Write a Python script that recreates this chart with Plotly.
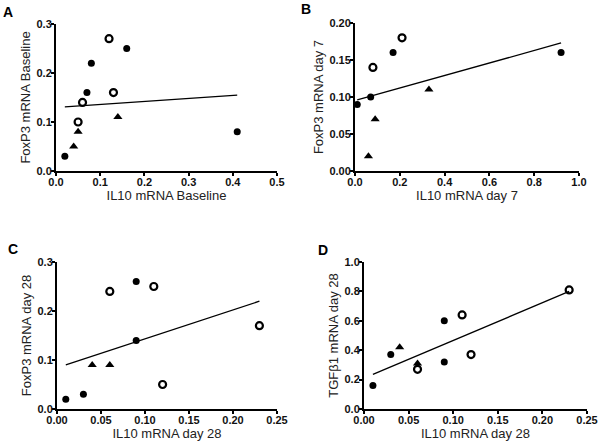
import plotly.graph_objects as go

# Panel A: baseline
a_fill_x = [0.02, 0.07, 0.08, 0.16, 0.41]
a_fill_y = [0.03, 0.16, 0.22, 0.25, 0.08]
a_open_x = [0.05, 0.06, 0.12, 0.13]
a_open_y = [0.10, 0.14, 0.27, 0.16]
a_tri_x = [0.04, 0.05, 0.14]
a_tri_y = [0.05, 0.08, 0.11]
a_fit_x = [0.02, 0.41]
a_fit_y = [0.131, 0.155]

# Panel B: day 7
b_fill_x = [0.01, 0.07, 0.17, 0.92]
b_fill_y = [0.09, 0.10, 0.16, 0.16]
b_open_x = [0.08, 0.21]
b_open_y = [0.14, 0.18]
b_tri_x = [0.06, 0.09, 0.33]
b_tri_y = [0.02, 0.07, 0.11]
b_fit_x = [0.01, 0.92]
b_fit_y = [0.096, 0.173]

# Panel C: day 28 FoxP3
c_fill_x = [0.01, 0.03, 0.09, 0.09]
c_fill_y = [0.02, 0.03, 0.26, 0.14]
c_open_x = [0.06, 0.11, 0.12, 0.23]
c_open_y = [0.24, 0.25, 0.05, 0.17]
c_tri_x = [0.04, 0.06]
c_tri_y = [0.09, 0.09]
c_fit_x = [0.01, 0.23]
c_fit_y = [0.09, 0.22]

# Panel D: day 28 TGFb1
d_fill_x = [0.01, 0.03, 0.09, 0.09]
d_fill_y = [0.16, 0.37, 0.60, 0.32]
d_open_x = [0.06, 0.11, 0.12, 0.23]
d_open_y = [0.27, 0.64, 0.37, 0.81]
d_tri_x = [0.04, 0.06]
d_tri_y = [0.42, 0.31]
d_fit_x = [0.01, 0.23]
d_fit_y = [0.235, 0.80]

panels = [
    dict(fill=(a_fill_x, a_fill_y), open=(a_open_x, a_open_y), tri=(a_tri_x, a_tri_y), fit=(a_fit_x, a_fit_y),
         xr=[0, 0.5], xd=0.1, xf=".1f", yr=[0, 0.3], yd=0.1, yf=".1f",
         xt="IL10 mRNA Baseline", yt="FoxP3 mRNA Baseline",
         dom_x=[56 / 603, 277 / 603], dom_y=[1 - 171 / 445, 1 - 24 / 445], letter="A", lx=8, ly=12),
    dict(fill=(b_fill_x, b_fill_y), open=(b_open_x, b_open_y), tri=(b_tri_x, b_tri_y), fit=(b_fit_x, b_fit_y),
         xr=[0, 1.0], xd=0.2, xf=".1f", yr=[0, 0.2], yd=0.05, yf=".2f",
         xt="IL10 mRNA day 7", yt="FoxP3 mRNA day 7",
         dom_x=[355 / 603, 579 / 603], dom_y=[1 - 171 / 445, 1 - 23 / 445], letter="B", lx=306, ly=9),
    dict(fill=(c_fill_x, c_fill_y), open=(c_open_x, c_open_y), tri=(c_tri_x, c_tri_y), fit=(c_fit_x, c_fit_y),
         xr=[0, 0.25], xd=0.05, xf=".2f", yr=[0, 0.3], yd=0.1, yf=".1f",
         xt="IL10 mRNA day 28", yt="FoxP3 mRNA day 28",
         dom_x=[57 / 603, 277 / 603], dom_y=[1 - 409 / 445, 1 - 262 / 445], letter="C", lx=13, ly=249),
    dict(fill=(d_fill_x, d_fill_y), open=(d_open_x, d_open_y), tri=(d_tri_x, d_tri_y), fit=(d_fit_x, d_fit_y),
         xr=[0, 0.25], xd=0.05, xf=".2f", yr=[0, 1.0], yd=0.2, yf=".1f",
         xt="IL10 mRNA day 28", yt="TGFβ1 mRNA day 28",
         dom_x=[364 / 603, 587 / 603], dom_y=[1 - 409 / 445, 1 - 262 / 445], letter="D", lx=323, ly=250),
]

fig = go.Figure()
tick_font = dict(family="Liberation Sans, Arial", size=11, color="#111", weight="bold")
title_font = dict(family="Liberation Sans, Arial", size=13, color="#222")

for i, p in enumerate(panels):
    n = "" if i == 0 else str(i + 1)
    xa, ya = "x" + n, "y" + n
    # regression line
    fig.add_trace(go.Scatter(x=p["fit"][0], y=p["fit"][1], mode="lines",
                             line=dict(color="black", width=1.3), xaxis=xa, yaxis=ya, cliponaxis=False))
    fig.add_trace(go.Scatter(x=p["fill"][0], y=p["fill"][1], mode="markers",
                             marker=dict(symbol="circle", size=7, color="black"),
                             xaxis=xa, yaxis=ya, cliponaxis=False))
    fig.add_trace(go.Scatter(x=p["open"][0], y=p["open"][1], mode="markers",
                             marker=dict(symbol="circle-open", size=7, color="black", line=dict(width=2.2)),
                             xaxis=xa, yaxis=ya, cliponaxis=False))
    fig.add_trace(go.Scatter(x=p["tri"][0], y=p["tri"][1], mode="markers",
                             marker=dict(symbol="triangle-up", size=8, color="black"),
                             xaxis=xa, yaxis=ya, cliponaxis=False))

    common = dict(showgrid=False, zeroline=False, showline=True, linecolor="black", linewidth=2,
                  ticks="outside", ticklen=3, tickwidth=1.5, tickcolor="black", automargin=False,
                  tickfont=tick_font, ticklabelstandoff=-3)
    fig.layout["xaxis" + n] = dict(domain=p["dom_x"], range=p["xr"], dtick=p["xd"], tick0=0,
                                   tickformat=p["xf"], anchor=ya,
                                   title=dict(text=p["xt"], standoff=2, font=title_font), **common)
    fig.layout["yaxis" + n] = dict(domain=p["dom_y"], range=p["yr"], dtick=p["yd"], tick0=0,
                                   tickformat=p["yf"], anchor=xa,
                                   title=dict(text=p["yt"], standoff=3, font=title_font), **common)
    fig.add_annotation(text="<b>" + p["letter"] + "</b>", x=p["lx"] / 603, y=1 - p["ly"] / 445,
                       xref="paper", yref="paper", showarrow=False, xanchor="center", yanchor="middle",
                       font=dict(family="Liberation Sans, Arial", size=14, color="black"))

fig.update_layout(width=603, height=445, margin=dict(l=0, r=0, t=0, b=0),
                  plot_bgcolor="white", paper_bgcolor="white", showlegend=False)

# remove the default page margin so the figure sits at the window's corner
fig.write_html("out.html", config={"displayModeBar": False},
               post_script="document.body.style.margin='0px';")
